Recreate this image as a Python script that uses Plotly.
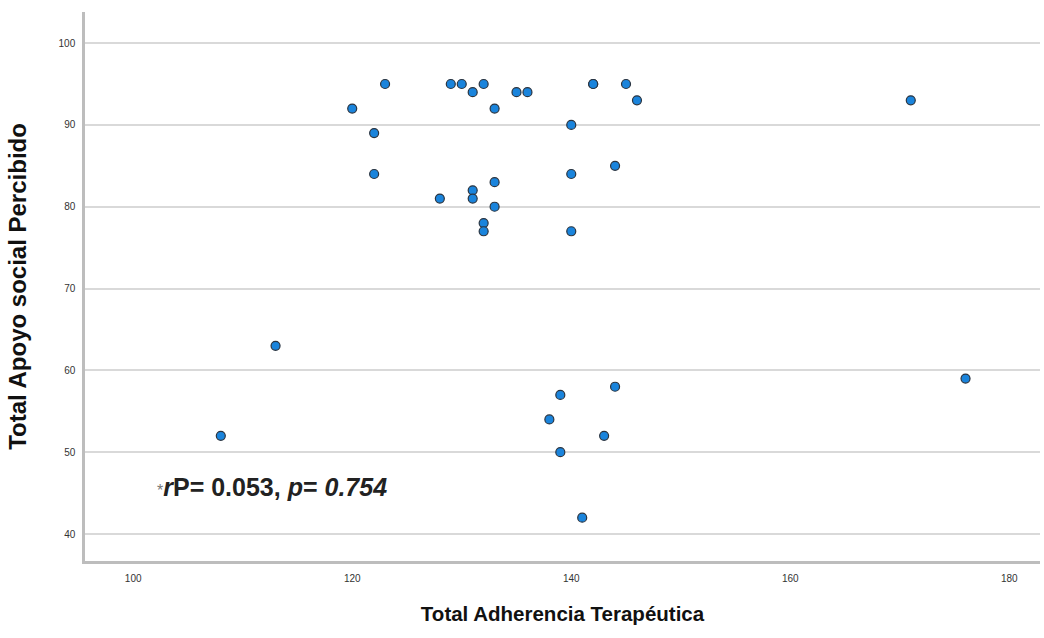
import plotly.graph_objects as go

# Data
adherencia = [123, 120, 122, 122, 129, 130, 131, 132, 133, 135, 136, 140, 142, 142, 145, 146,
              144, 140, 133, 131, 131, 128, 133, 132, 132, 140,
              139, 144, 138, 143, 139, 113, 108, 171, 176, 141]
apoyo = [95, 92, 89, 84, 95, 95, 94, 95, 92, 94, 94, 90, 95, 95, 95, 93,
         85, 84, 83, 82, 81, 81, 80, 78, 77, 77,
         57, 58, 54, 52, 50, 63, 52, 93, 59, 42]

x_ticks = [100, 120, 140, 160, 180]
y_ticks = [40, 50, 60, 70, 80, 90, 100]

x_title = "Total Adherencia Terapéutica"
y_title = "Total Apoyo social Percibido"
stat_text = ("<span style='font-size:16px;color:#777777'>*</span>"
             "<b><i>r</i>P= 0.053, <i>p</i>= <i>0.754</i></b>")

fig = go.Figure()
fig.add_trace(go.Scatter(
    x=adherencia, y=apoyo, mode="markers",
    marker=dict(size=9, color="#1a84dc", line=dict(color="#2a3440", width=1.2)),
    showlegend=False, hoverinfo="x+y",
))

fig.add_annotation(
    x=102.0, y=45.7, xref="x", yref="y", xanchor="left", yanchor="middle",
    text=stat_text, showarrow=False,
    font=dict(family="Liberation Sans, Arial", size=25, color="#222222"),
)

fig.update_layout(
    width=1044, height=638,
    margin=dict(l=85, r=4, t=12, b=77),
    paper_bgcolor="white", plot_bgcolor="white",
    font=dict(family="Liberation Sans, Arial", color="#333333"),
    xaxis=dict(
        range=[95.6, 182.8], tickvals=x_ticks, ticks="", showgrid=False,
        zeroline=False, showline=True, linecolor="#bdbdbd", linewidth=2.5,
        automargin=False, ticklabelstandoff=6,
        tickfont=dict(family="Liberation Sans Narrow, Liberation Sans, Arial", size=10, color="#333333"),
        title=dict(text="<b>" + x_title + "</b>", standoff=24,
                   font=dict(family="Liberation Sans Narrow, Liberation Sans, Arial", size=20.5, color="#111111")),
    ),
    yaxis=dict(
        range=[36.7, 103.8], tickvals=y_ticks, ticks="", showgrid=True,
        gridcolor="#d9d9d9", gridwidth=1.5, zeroline=False,
        showline=True, linecolor="#bdbdbd", linewidth=2.5,
        automargin=False, ticklabelstandoff=5,
        tickfont=dict(family="Liberation Sans Narrow, Liberation Sans, Arial", size=10, color="#333333"),
        title=dict(text="<b>" + y_title + "</b>", standoff=26,
                   font=dict(family="Liberation Sans, Arial", size=24, color="#111111")),
    ),
)

fig.write_html("out.html", config={"displayModeBar": False},
               post_script="document.body.style.margin='0';")
